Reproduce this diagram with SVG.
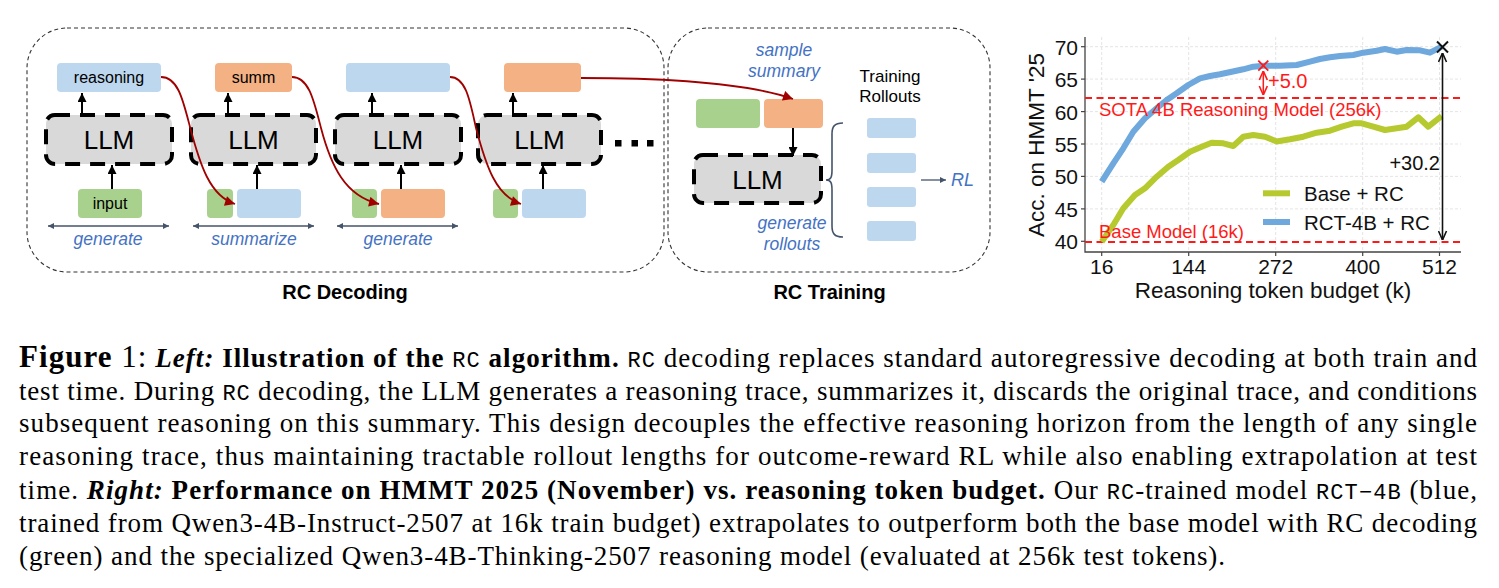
<svg xmlns="http://www.w3.org/2000/svg" width="1499" height="588" viewBox="0 0 1499 588">
<defs>
<style>
.frame{fill:none;stroke:#333;stroke-width:1.1;stroke-dasharray:4 3}
.llm{fill:#d9d9d9;stroke:#000;stroke-width:4;stroke-dasharray:15 10}
.llmt{font-family:"Liberation Sans",Arial,sans-serif;font-size:26px;fill:#000;text-anchor:middle}
.lbl{font-family:"Liberation Sans",Arial,sans-serif;font-size:16px;fill:#000;text-anchor:middle}
.blue{fill:#bdd7ee}
.orng{fill:#f4b183}
.grn{fill:#a9d18e}
.it{font-family:"Liberation Sans",Arial,sans-serif;font-style:italic;font-size:17.5px;fill:#4472c4;text-anchor:middle}
.up{stroke:#000;stroke-width:2;fill:none;marker-end:url(#ab)}
.red{stroke:#a00000;stroke-width:1.8;fill:none;marker-end:url(#ar)}
.span{stroke:#44546a;stroke-width:1.3;fill:none;marker-start:url(#as);marker-end:url(#as)}
.one{stroke:#44546a;stroke-width:1.3;fill:none;marker-end:url(#as)}
.title{font-family:"Liberation Sans",Arial,sans-serif;font-weight:bold;font-size:20px;fill:#000;text-anchor:middle}
.ax{font-family:"Liberation Sans",Arial,sans-serif;font-size:21px;fill:#111}
.grid{stroke:#e2e2e2;stroke-width:0.9;stroke-dasharray:3 2}
.rdash{stroke:#ff1a1a;stroke-width:2.2;stroke-dasharray:7 4.5;fill:none}
.rtxt{font-family:"Liberation Sans",Arial,sans-serif;font-size:18.5px;fill:#ff1a1a}
.cap{font-family:"Liberation Serif","Times New Roman",serif;font-size:27px;fill:#000}
.b{font-weight:bold}
.bi{font-weight:bold;font-style:italic}
.m{font-family:"Liberation Mono","Courier New",monospace;font-size:22px}
</style>
<marker id="ab" viewBox="0 0 10 10" refX="10" refY="5" markerWidth="9" markerHeight="9" markerUnits="userSpaceOnUse" orient="auto"><path d="M0,0 L10,5 L0,10 z" fill="#000"/></marker>
<marker id="ar" viewBox="0 0 10 10" refX="10" refY="5" markerWidth="11" markerHeight="10" markerUnits="userSpaceOnUse" orient="auto"><path d="M0,0 L10,5 L0,10 z" fill="#a00000"/></marker>
<marker id="as" viewBox="0 0 10 10" refX="10" refY="5" markerWidth="6" markerHeight="6" markerUnits="userSpaceOnUse" orient="auto-start-reverse"><path d="M0,0 L10,5 L0,10 z" fill="#44546a"/></marker>
<marker id="ok" viewBox="0 0 10 10" refX="10" refY="5" markerWidth="10" markerHeight="10" markerUnits="userSpaceOnUse" orient="auto-start-reverse"><path d="M1,1 L10,5 L1,9" fill="none" stroke="#111" stroke-width="1.6"/></marker>
<marker id="or" viewBox="0 0 10 10" refX="10" refY="5" markerWidth="10" markerHeight="10" markerUnits="userSpaceOnUse" orient="auto-start-reverse"><path d="M1,1 L10,5 L1,9" fill="none" stroke="#ff1a1a" stroke-width="1.6"/></marker>
</defs>
<rect width="1499" height="588" fill="#fff"/>

<g id="rc-decoding">
<rect class="frame" x="27" y="28" width="637" height="244" rx="40"/>
<text class="title" x="345" y="299">RC Decoding</text>
</g>
<g id="rc-training">
<rect class="frame" x="668" y="28" width="322" height="244" rx="40"/>
<text class="title" x="829.5" y="299">RC Training</text>
</g>

<g id="step1">
<rect class="blue" x="57" y="63" width="104" height="29" rx="4"/>
<text class="lbl" x="109" y="83">reasoning</text>
<rect class="llm" x="46" y="115" width="126" height="49" rx="9"/>
<text class="llmt" x="109" y="149">LLM</text>
<rect class="grn" x="78" y="189" width="64" height="29" rx="4"/>
<text class="lbl" x="110" y="209">input</text>
<text class="it" x="108" y="245">generate</text>
</g>
<g id="step2">
<rect class="orng" x="215" y="63" width="77" height="29" rx="4"/>
<text class="lbl" x="253.5" y="83">summ</text>
<rect class="llm" x="191" y="115" width="125" height="49" rx="9"/>
<text class="llmt" x="253.5" y="149">LLM</text>
<rect class="grn" x="207" y="189" width="26" height="29" rx="4"/>
<rect class="blue" x="237" y="189" width="64" height="29" rx="4"/>
<text class="it" x="254" y="245">summarize</text>
</g>
<g id="step3">
<rect class="blue" x="346" y="63" width="104" height="29" rx="4"/>
<rect class="llm" x="335" y="115" width="126" height="49" rx="9"/>
<text class="llmt" x="398" y="149">LLM</text>
<rect class="grn" x="352" y="189" width="25" height="29" rx="4"/>
<rect class="orng" x="381" y="189" width="64" height="29" rx="4"/>
<text class="it" x="398" y="245">generate</text>
</g>
<g id="step4">
<rect class="orng" x="504" y="63" width="77" height="29" rx="4"/>
<rect class="llm" x="478" y="115" width="123" height="49" rx="9"/>
<text class="llmt" x="539.5" y="149">LLM</text>
<rect class="grn" x="493" y="189" width="25" height="29" rx="4"/>
<rect class="blue" x="522" y="189" width="64" height="29" rx="4"/>
</g>
<g id="ellipsis" fill="#000">
<rect x="615" y="140" width="6.5" height="6.5"/>
<rect x="631.5" y="140" width="6.5" height="6.5"/>
<rect x="647" y="140" width="6.5" height="6.5"/>
</g>

<g id="training">
<text class="it" x="784" y="56">sample</text>
<text class="it" x="784" y="77">summary</text>
<rect class="grn" x="696" y="99" width="64" height="29" rx="4"/>
<rect class="orng" x="764" y="99" width="59" height="29" rx="4"/>
<rect class="llm" x="694" y="155" width="127" height="48" rx="9"/>
<text class="llmt" x="757.5" y="189">LLM</text>
<text class="it" x="792" y="229">generate</text>
<text class="it" x="792" y="250">rollouts</text>
<text class="lbl" x="890" y="82" style="font-size:17px">Training</text>
<text class="lbl" x="890" y="102" style="font-size:17px">Rollouts</text>
<path d="M843,123 C834,123 832,127 832,134 L832,170 C832,177 831,180 826,180 C831,180 832,183 832,190 L832,226 C832,233 834,237 843,237" fill="none" stroke="#44546a" stroke-width="1.6"/>
<rect class="blue" x="867" y="118" width="49" height="20" rx="3"/>
<rect class="blue" x="867" y="153" width="49" height="20" rx="3"/>
<rect class="blue" x="867" y="187" width="49" height="20" rx="3"/>
<rect class="blue" x="867" y="221" width="49" height="20" rx="3"/>
<text class="it" x="951" y="186" style="text-anchor:start;font-size:18px">RL</text>
</g>

<g id="connectors">
<line class="up" x1="82" y1="115" x2="82" y2="93"/>
<line class="up" x1="112" y1="189" x2="112" y2="165"/>
<line class="up" x1="228" y1="115" x2="228" y2="93"/>
<line class="up" x1="257" y1="189" x2="257" y2="165"/>
<line class="up" x1="372" y1="115" x2="372" y2="93"/>
<line class="up" x1="401" y1="189" x2="401" y2="165"/>
<line class="up" x1="513" y1="115" x2="513" y2="93"/>
<line class="up" x1="543" y1="189" x2="543" y2="165"/>
<line class="up" x1="793" y1="128" x2="793" y2="156"/>
<line class="span" x1="48" y1="226" x2="169" y2="226"/>
<line class="span" x1="193" y1="226" x2="314" y2="226"/>
<line class="span" x1="337" y1="226" x2="458" y2="226"/>
<line class="one" x1="921" y1="180" x2="946" y2="180"/>
<path class="red" d="M161,77 C178,77 183,100 190,127 C200,165 210,196 235,204"/>
<path class="red" d="M292,77 C309,77 314,101 321,128 C331,166 345,196 379,204"/>
<path class="red" d="M450,77 C466,77 470,101 476,128 C486,166 496,196 521,204"/>
<path class="red" d="M581,78 C680,78 750,84 793,99"/>
</g>

<g id="chart">
<g class="grid">
<line x1="1085" y1="46.7" x2="1461" y2="46.7"/>
<line x1="1085" y1="79.1" x2="1461" y2="79.1"/>
<line x1="1085" y1="111.6" x2="1461" y2="111.6"/>
<line x1="1085" y1="144" x2="1461" y2="144"/>
<line x1="1085" y1="176.4" x2="1461" y2="176.4"/>
<line x1="1085" y1="208.9" x2="1461" y2="208.9"/>
<line x1="1101.7" y1="37" x2="1101.7" y2="252"/>
<line x1="1188.7" y1="37" x2="1188.7" y2="252"/>
<line x1="1275.7" y1="37" x2="1275.7" y2="252"/>
<line x1="1362.7" y1="37" x2="1362.7" y2="252"/>
<line x1="1439.5" y1="37" x2="1439.5" y2="252"/>
</g>
<path d="M1085,37 L1085,252 L1461,252" fill="none" stroke="#444" stroke-width="1.3"/>
<g stroke="#444" stroke-width="1.2">
<line x1="1081" y1="46.7" x2="1085" y2="46.7"/>
<line x1="1081" y1="79.1" x2="1085" y2="79.1"/>
<line x1="1081" y1="111.6" x2="1085" y2="111.6"/>
<line x1="1081" y1="144" x2="1085" y2="144"/>
<line x1="1081" y1="176.4" x2="1085" y2="176.4"/>
<line x1="1081" y1="208.9" x2="1085" y2="208.9"/>
<line x1="1081" y1="241.3" x2="1085" y2="241.3"/>
<line x1="1101.7" y1="252" x2="1101.7" y2="256"/>
<line x1="1188.7" y1="252" x2="1188.7" y2="256"/>
<line x1="1275.7" y1="252" x2="1275.7" y2="256"/>
<line x1="1362.7" y1="252" x2="1362.7" y2="256"/>
<line x1="1439.5" y1="252" x2="1439.5" y2="256"/>
</g>
<g class="ax" text-anchor="end">
<text x="1078" y="54.5">70</text>
<text x="1078" y="87">65</text>
<text x="1078" y="119.5">60</text>
<text x="1078" y="152">55</text>
<text x="1078" y="184">50</text>
<text x="1078" y="216.5">45</text>
<text x="1078" y="249">40</text>
</g>
<g class="ax" text-anchor="middle">
<text x="1101.7" y="274">16</text>
<text x="1188.7" y="274">144</text>
<text x="1275.7" y="274">272</text>
<text x="1362.7" y="274">400</text>
<text x="1439.5" y="274">512</text>
</g>
<text class="ax" x="1273" y="298" text-anchor="middle" style="font-size:22.5px">Reasoning token budget (k)</text>
<text class="ax" transform="translate(1044,145) rotate(-90)" text-anchor="middle" style="font-size:22.5px">Acc. on HMMT '25</text>
<line class="rdash" x1="1085" y1="98" x2="1461" y2="98"/>
<line class="rdash" x1="1085" y1="242" x2="1461" y2="242"/>
<polyline fill="none" stroke="#b6c92e" stroke-width="6" stroke-linejoin="round" points="1101.7,241.7 1113.3,225 1123.3,208.3 1135,195 1145,188.3 1156.7,176.7 1168.3,166.7 1178.3,160 1190,151.7 1201.7,146.7 1211.7,142.7 1223.3,143.3 1233.3,146 1243.3,136.7 1253.3,135 1265,136.7 1276.7,141.5 1290,139.3 1303.3,136.7 1316.7,132.7 1330,130.7 1341.7,126.7 1353.3,123.3 1361.7,123.3 1373.3,126.7 1385,130 1396.7,128.3 1406.7,126.7 1418.3,117.3 1428.3,126.7 1441.7,116"/>
<polyline fill="none" stroke="#6fa8dc" stroke-width="6" stroke-linejoin="round" points="1101.7,181.7 1113.3,163.3 1123.3,148.3 1133.3,131.7 1145,118.3 1156.7,108.3 1166.7,100 1176.7,93.3 1188.3,85 1200,78.3 1210,76 1220,74.3 1231.7,71.7 1243.3,69.3 1253.3,66.7 1263.3,65.7 1280,65.7 1296.7,65 1310,61.7 1320,59 1330,57.3 1340,56 1353.3,55 1363.3,52.7 1376.7,50.7 1385,49 1396.7,51.7 1406.7,50 1420,50.3 1430,52.7 1441.7,46.7"/>
<text class="rtxt" x="1099" y="116">SOTA 4B Reasoning Model (256k)</text>
<text class="rtxt" x="1099" y="238">Base Model (16k)</text>
<path d="M1258.3,60.7 L1268.3,70.7 M1268.3,60.7 L1258.3,70.7" stroke="#ff1a1a" stroke-width="1.8"/>
<line x1="1263.3" y1="71" x2="1263.3" y2="95" stroke="#ff1a1a" stroke-width="1.5" marker-start="url(#or)" marker-end="url(#or)"/>
<text class="rtxt" x="1268" y="88" style="font-size:20px">+5.0</text>
<path d="M1437,41.5 L1448,52.5 M1448,41.5 L1437,52.5" stroke="#111" stroke-width="2"/>
<line x1="1442.5" y1="53" x2="1442.5" y2="240" stroke="#111" stroke-width="1.6" marker-start="url(#ok)" marker-end="url(#ok)"/>
<text class="ax" x="1440" y="170" text-anchor="end" style="font-size:20px">+30.2</text>
<line x1="1263" y1="193.3" x2="1290" y2="193.3" stroke="#b6c92e" stroke-width="6"/>
<line x1="1263" y1="222" x2="1290" y2="222" stroke="#6fa8dc" stroke-width="6"/>
<text class="ax" x="1304" y="200.5" style="font-size:20.5px">Base + RC</text>
<text class="ax" x="1304" y="229.5" style="font-size:20.5px">RCT-4B + RC</text>
</g>

<g id="caption" class="cap">
<text x="19" y="367" textLength="1458" lengthAdjust="spacing"><tspan class="b" style="font-size:31px">Figure</tspan><tspan style="font-size:31px"> 1:</tspan> <tspan class="bi">Left:</tspan><tspan class="b"> Illustration of the </tspan><tspan class="m">RC</tspan><tspan class="b"> algorithm.</tspan> <tspan class="m">RC</tspan> decoding replaces standard autoregressive decoding at both train and</text>
<text x="19" y="400" textLength="1458" lengthAdjust="spacing">test time. During <tspan class="m">RC</tspan> decoding, the LLM generates a reasoning trace, summarizes it, discards the original trace, and conditions</text>
<text x="19" y="432" textLength="1458" lengthAdjust="spacing">subsequent reasoning on this summary. This design decouples the effective reasoning horizon from the length of any single</text>
<text x="19" y="465" textLength="1458" lengthAdjust="spacing">reasoning trace, thus maintaining tractable rollout lengths for outcome-reward RL while also enabling extrapolation at test</text>
<text x="19" y="499" textLength="1458" lengthAdjust="spacing">time. <tspan class="bi">Right:</tspan><tspan class="b"> Performance on HMMT 2025 (November) vs. reasoning token budget.</tspan> Our <tspan class="m">RC</tspan>-trained model <tspan class="m">RCT−4B</tspan> (blue,</text>
<text x="19" y="532" textLength="1458" lengthAdjust="spacing">trained from Qwen3-4B-Instruct-2507 at 16k train budget) extrapolates to outperform both the base model with RC decoding</text>
<text x="19" y="565" textLength="1206" lengthAdjust="spacing">(green) and the specialized Qwen3-4B-Thinking-2507 reasoning model (evaluated at 256k test tokens).</text>
</g>
</svg>
